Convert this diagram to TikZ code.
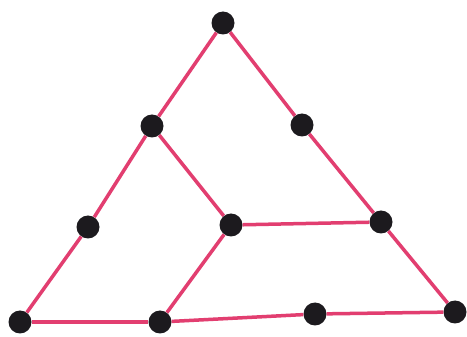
\documentclass[tikz,border=0pt]{standalone}
\definecolor{pinkline}{RGB}{226,62,112}
\definecolor{dotcol}{RGB}{28,26,30}
\begin{document}
\begin{tikzpicture}[x=1pt,y=-1pt,
  dot/.style={circle,fill=dotcol,inner sep=0pt,minimum size=23pt},
  edge/.style={draw=pinkline,line width=3.5pt}]
\useasboundingbox (0,0) rectangle (467,337);
\fill[white] (0,0) rectangle (467,337);
\node[dot] (t) at (223,23) {};
\node[dot] (a) at (152,126) {};
\node[dot] (b) at (302,125) {};
\node[dot] (c) at (88,227) {};
\node[dot] (m) at (231,225) {};
\node[dot] (d) at (381,222) {};
\node[dot] (bl) at (20,322) {};
\node[dot] (bm) at (160,322) {};
\node[dot] (e) at (315,314) {};
\node[dot] (br) at (455,312) {};
\draw[edge] (t) -- (a);
\draw[edge] (a) -- (c);
\draw[edge] (c) -- (bl);
\draw[edge] (t) -- (b);
\draw[edge] (b) -- (d);
\draw[edge] (d) -- (br);
\draw[edge] (bl) -- (bm);
\draw[edge] (bm) -- (e);
\draw[edge] (e) -- (br);
\draw[edge] (a) -- (m);
\draw[edge] (m) -- (d);
\draw[edge] (m) -- (bm);
\end{tikzpicture}
\end{document}
